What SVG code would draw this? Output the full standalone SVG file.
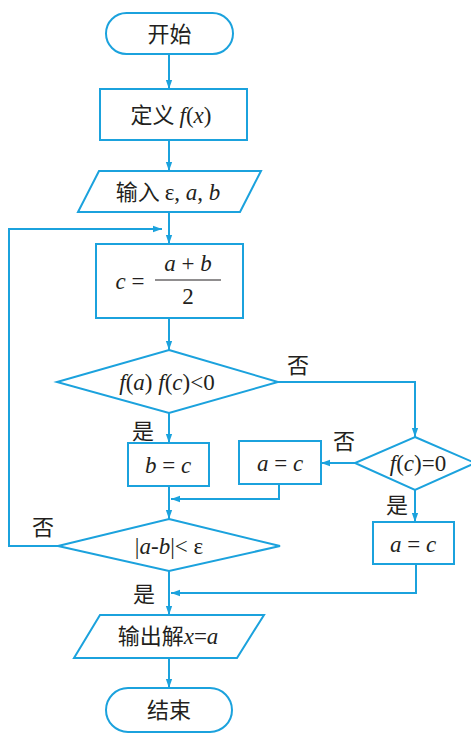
<svg xmlns="http://www.w3.org/2000/svg" width="471" height="734" viewBox="0 0 471 734">
<style>
.s{fill:#fff;stroke:#1ba2dd;stroke-width:2}
.c{fill:none;stroke:#1ba2dd;stroke-width:2}
text{font-family:"Liberation Serif","Noto Sans CJK SC",serif;font-size:23px;fill:#231f20}
.zh{font-family:"Noto Sans CJK SC",sans-serif;font-size:22px}
.i{font-style:italic}
</style>
<defs>
<marker id="ah" viewBox="0 0 10 10" markerUnits="userSpaceOnUse" markerWidth="9" markerHeight="9" refX="10" refY="5" orient="auto">
<path d="M0,1.5 L10,5 L0,8.5 Z" fill="#1ba2dd"/>
</marker>
</defs>
<rect width="471" height="734" fill="#fff"/>
<g id="connectors">
<path class="c" d="M169,54 V89" marker-end="url(#ah)"/>
<path class="c" d="M169,140 V171" marker-end="url(#ah)"/>
<path class="c" d="M169,212 V244" marker-end="url(#ah)"/>
<path class="c" d="M169,318 V350" marker-end="url(#ah)"/>
<path class="c" d="M169,413 V443" marker-end="url(#ah)"/>
<path class="c" d="M278,382 H415 V437" marker-end="url(#ah)"/>
<path class="c" d="M355,463 H321" marker-end="url(#ah)"/>
<path class="c" d="M415,490 V522" marker-end="url(#ah)"/>
<path class="c" d="M169,486 V519" marker-end="url(#ah)"/>
<path class="c" d="M279,484 V499 H171" marker-end="url(#ah)"/>
<path class="c" d="M58,546 H9 V229 H162" marker-end="url(#ah)"/>
<path class="c" d="M169,571 V615" marker-end="url(#ah)"/>
<path class="c" d="M416,564 V593 H171" marker-end="url(#ah)"/>
<path class="c" d="M169,658 V688" marker-end="url(#ah)"/>
<text class="zh" x="298" y="373" text-anchor="middle">否</text>
<text class="zh" x="344" y="449" text-anchor="middle">否</text>
<text class="zh" x="143" y="439" text-anchor="middle">是</text>
<text class="zh" x="397" y="513" text-anchor="middle">是</text>
<text class="zh" x="43" y="535" text-anchor="middle">否</text>
<text class="zh" x="144" y="602" text-anchor="middle">是</text>
</g>
<g id="start">
<rect class="s" x="106" y="13" width="127" height="41" rx="20.5"/>
<text class="zh" x="169.5" y="42" text-anchor="middle">开始</text>
</g>
<g id="define">
<rect class="s" x="100" y="89" width="147" height="51"/>
<text x="171" y="123" text-anchor="middle"><tspan class="zh">定义 </tspan><tspan class="i">f</tspan>(<tspan class="i">x</tspan>)</text>
</g>
<g id="input">
<polygon class="s" points="99,171 261,171 240,212 78,212"/>
<text x="168" y="200" text-anchor="middle"><tspan class="zh">输入 </tspan>ε, <tspan class="i">a</tspan>, <tspan class="i">b</tspan></text>
</g>
<g id="mid">
<rect class="s" x="96" y="244" width="147" height="74"/>
<text x="130" y="289" text-anchor="middle"><tspan class="i">c</tspan> =</text>
<line x1="155" y1="280" x2="221" y2="280" stroke="#231f20" stroke-width="1.2"/>
<text x="188" y="271" text-anchor="middle"><tspan class="i">a</tspan> + <tspan class="i">b</tspan></text>
<text x="188" y="304" text-anchor="middle">2</text>
</g>
<g id="cond1">
<polygon class="s" points="169,350 278,382 169,413 57,382"/>
<text x="167" y="390" text-anchor="middle"><tspan class="i">f</tspan>(<tspan class="i">a</tspan>) <tspan class="i">f</tspan>(<tspan class="i">c</tspan>)&lt;0</text>
</g>
<g id="cond2">
<polygon class="s" points="415,437 475,463 415,490 355,463"/>
<text x="418" y="471" text-anchor="middle"><tspan class="i">f</tspan>(<tspan class="i">c</tspan>)=0</text>
</g>
<g id="bc">
<rect class="s" x="128" y="443" width="81" height="43"/>
<text x="168" y="473" text-anchor="middle"><tspan class="i">b</tspan> = <tspan class="i">c</tspan></text>
</g>
<g id="ac1">
<rect class="s" x="239" y="441" width="82" height="43"/>
<text x="280" y="471" text-anchor="middle"><tspan class="i">a</tspan> = <tspan class="i">c</tspan></text>
</g>
<g id="cond3">
<polygon class="s" points="169,519 280,546 169,571 58,546"/>
<text x="169" y="554" text-anchor="middle">|<tspan class="i">a</tspan>-<tspan class="i">b</tspan>|&lt; ε</text>
</g>
<g id="ac2">
<rect class="s" x="373" y="522" width="81" height="42"/>
<text x="413" y="552" text-anchor="middle"><tspan class="i">a</tspan> = <tspan class="i">c</tspan></text>
</g>
<g id="output">
<polygon class="s" points="100,615 264,615 237,658 74,658"/>
<text x="168" y="644" text-anchor="middle"><tspan class="zh">输出解</tspan><tspan class="i">x</tspan>=<tspan class="i">a</tspan></text>
</g>
<g id="end">
<rect class="s" x="106" y="688" width="126" height="44" rx="22"/>
<text class="zh" x="169" y="718" text-anchor="middle">结束</text>
</g>
</svg>
